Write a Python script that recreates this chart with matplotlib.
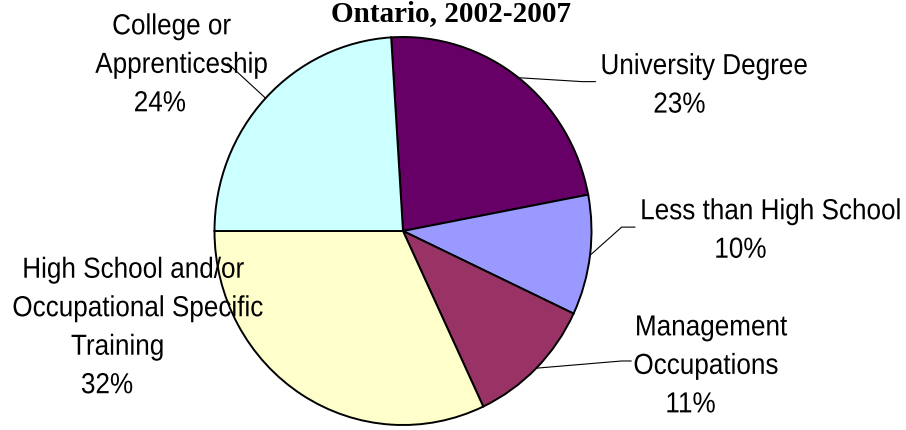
import numpy as np
import matplotlib
matplotlib.use("Agg")
import matplotlib.pyplot as plt
from matplotlib.textpath import TextPath
from matplotlib.patches import PathPatch
from matplotlib.font_manager import FontProperties
from matplotlib.transforms import Affine2D

# ---- data ----
categories = ["University Degree", "Less than High School", "Management\nOccupations",
              "High School and/or\nOccupational Specific\nTraining", "College or\nApprenticeship"]
shares = [23, 10, 11, 32, 24]
colors = ["#660066", "#9999FF", "#993366", "#FFFFCC", "#CCFFFF"]
title = "Ontario, 2002-2007"

# ---- layout ----
# label block centres (data units, pie radius = 1)
label_pos = [(1.60, 0.763), (1.952, 0.015), (1.629, -0.683), (-1.416, -0.485), (-1.204, 0.869)]
# per-line horizontal nudges in pixels (excel centres lines a bit oddly)
line_shift = [[0, -25], [0, -30], [2, -4, -19], [-2, 2, -19, -29], [-4, 5, -16]]
# leader knee points (None = no leader line)
knee_pos = [(0.95, 0.77), (1.16, 0.02), (1.16, -0.67), None, (-0.93, 0.865)]
tail = [0.07, 0.07, 0.05, 0, 0]

EM = 29.0      # px, label font size
SX = 0.9       # horizontal squeeze -> narrow arial look
PITCH = 38.5   # px between baselines
CAP = 0.716 * EM
fp = FontProperties(family="Liberation Sans")

fig = plt.figure(figsize=(9.06, 4.3), dpi=100)
fig.set_facecolor("white")
ax = fig.add_axes([0, 0, 1, 1])

start = 93.6
wedges, _ = ax.pie(shares, colors=colors, startangle=start, counterclock=False,
                   radius=1, center=(0, 0),
                   wedgeprops=dict(edgecolor="black", linewidth=1.4))
ax.set_aspect("auto")
# slightly taller than wide, like the original
ax.set_xlim(-403 / 188.5, (906 - 403) / 188.5)
ax.set_ylim((231 - 430) / 194, 231 / 194)
ax.axis("off")


def narrow_text(x, y, lines, shifts):
    cx, cy = ax.transData.transform((x, y))
    top = cy + (CAP + (len(lines) - 1) * PITCH) / 2
    for i, (s, dx) in enumerate(zip(lines, shifts)):
        tp = TextPath((0, 0), s, size=EM, prop=fp)
        bb = tp.get_extents()
        mid = (bb.x0 + bb.x1) / 2
        base = top - CAP - i * PITCH
        tr = Affine2D().translate(-mid, 0).scale(SX, 1).translate(cx + dx, base)
        ax.add_patch(PathPatch(tp, transform=tr, facecolor="black",
                               edgecolor="none", lw=0, zorder=3))


for w, name, val, (lx, ly), sh, knee, t in zip(wedges, categories, shares, label_pos,
                                                line_shift, knee_pos, tail):
    narrow_text(lx, ly, name.split("\n") + [f"{val}%"], sh)
    if knee is None:
        continue
    mid = np.deg2rad((w.theta1 + w.theta2) / 2)
    ex, ey = np.cos(mid), np.sin(mid)
    sgn = 1 if knee[0] > 0 else -1
    ax.plot([ex, knee[0], knee[0] + sgn * t], [ey, knee[1], knee[1]],
            color="black", linewidth=0.8, zorder=4)

ax.text(0.255, 1.082, title, ha="center", va="baseline", fontsize=21,
        fontweight="bold", family=["Liberation Serif", "DejaVu Serif"])

fig.savefig("out.png", dpi=100)
